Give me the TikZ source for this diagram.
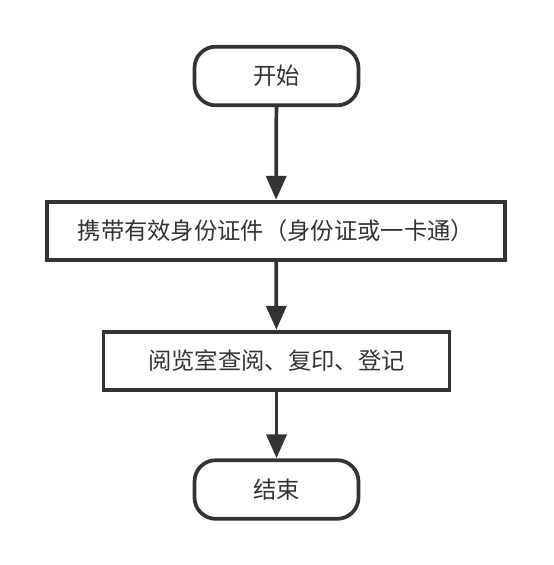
\documentclass[tikz,border=0pt]{standalone}
\usepackage{fontspec}
\setmainfont{Noto Sans CJK SC}
\usepackage{xcolor}
\usetikzlibrary{shapes.geometric, arrows.meta}
\definecolor{linegray}{HTML}{333333}
\definecolor{textgray}{HTML}{333333}
\tikzstyle{arrow} = [line width=2.8pt,draw=linegray,-{Triangle[length=18pt,width=15pt]}]

\begin{document}
\begin{tikzpicture}
        [
            x=0.75pt, y=-0.75pt,
            box/.style={rectangle,draw=linegray,line width=2.8pt,minimum height=44pt,
                text=textgray,font=\fontsize{17.5pt}{20pt}\selectfont},
            term/.style={box,rounded corners=16pt,minimum width=123pt},
        ]
    \useasboundingbox (0,0) rectangle (554,565);

    \node [term] (start) at (276.5,76) {开始};
    \node [box,minimum width=344pt] (carry) at (276,231) {携带有效身份证件（身份证或一卡通）};
    \node [box,minimum width=259.5pt] (read) at (276.5,361) {阅览室查阅、复印、登记};
    \node [term] (stop) at (276.5,489.5) {结束};

    \draw [arrow] (start) -- (carry);
    \draw [arrow] (carry) -- (read);
    \draw [arrow] (read) -- (stop);
    \end{tikzpicture}
\end{document}
